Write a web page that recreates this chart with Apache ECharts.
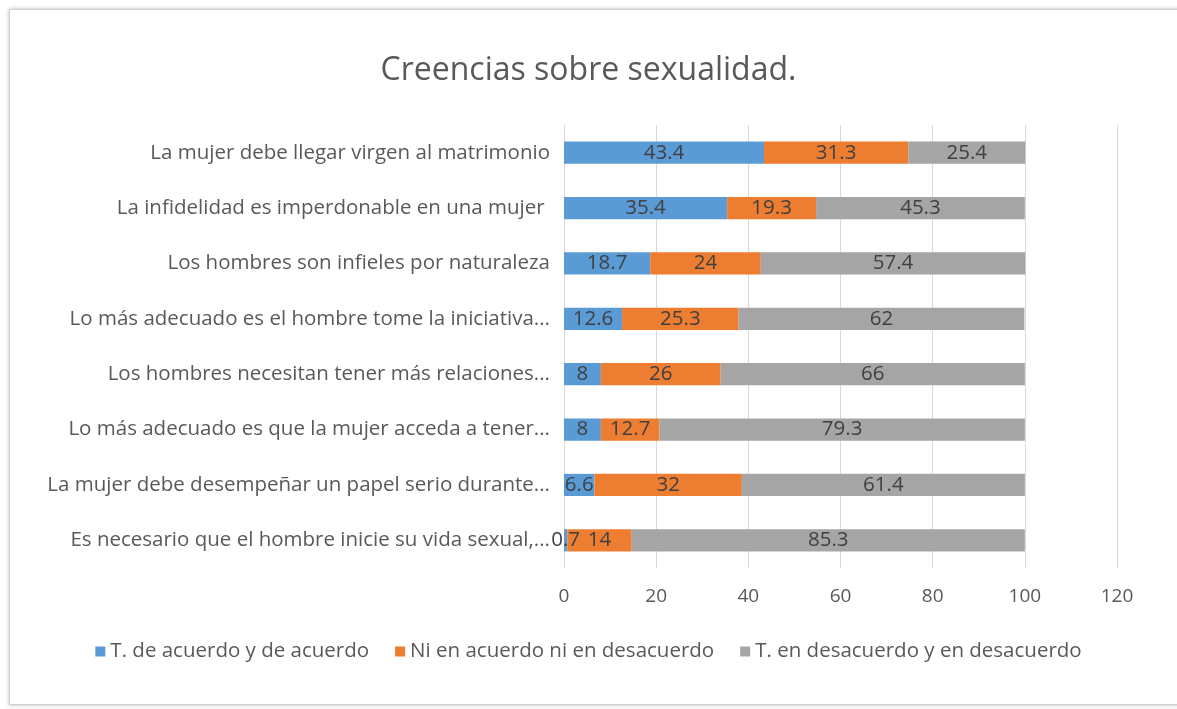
<!DOCTYPE html>
<html>
<head lang="es">
    <meta charset="UTF-8">
    <title>Creencias sobre sexualidad</title>
    <style>
        body { margin: 0; background: #fff; }
        #frame {
            position: absolute; left: 9px; top: 9px; width: 1170px; height: 694px;
            border: 1px solid #d0d0d0; box-shadow: 0 0 4px #bbb; background: #fff;
        }
        #main { position: absolute; left: 0; top: 0; width: 1177px; height: 709px; }
    </style>
</head>
<body>
<div id="frame"></div>
<div id="main"></div>
<script src="https://cdn.jsdelivr.net/npm/echarts/dist/echarts.min.js"></script>
<script type="text/javascript">
    // categorias (de arriba a abajo)
    var categorias = [
        'La mujer debe llegar virgen al matrimonio',
        'La infidelidad es imperdonable en una mujer ',
        'Los hombres son infieles por naturaleza',
        'Lo más adecuado es el hombre tome la iniciativa...',
        'Los hombres necesitan tener más relaciones...',
        'Lo más adecuado es que la mujer acceda a tener...',
        'La mujer debe desempeñar un papel serio durante...',
        'Es necesario que el hombre inicie su vida sexual,...'
    ];
    var nombresSeries = ['T. de acuerdo y de acuerdo', 'Ni en acuerdo ni en desacuerdo', 'T. en desacuerdo y en desacuerdo'];
    var deAcuerdo = [43.4, 35.4, 18.7, 12.6, 8, 8, 6.6, 0.7];
    var niNi = [31.3, 19.3, 24, 25.3, 26, 12.7, 32, 14];
    var desacuerdo = [25.4, 45.3, 57.4, 62, 66, 79.3, 61.4, 85.3];
    var ticksX = [0, 20, 40, 60, 80, 100, 120];

    var colores = ['#5b9bd5', '#ed7d31', '#a5a5a5'];
    var valores = [deAcuerdo, niNi, desacuerdo];
    var fuente = '"Open Sans", "Noto Sans", sans-serif';

    var myChart = echarts.init(document.getElementById('main'));
    var series = [];
    for (let i = 0; i < nombresSeries.length; i++) {
        series.push({
            name: nombresSeries[i],
            type: 'bar',
            stack: 'total',
            barWidth: '40%',
            data: valores[i],
            itemStyle: { color: colores[i] },
            label: {
                show: true, position: 'inside', color: '#404040',
                fontSize: 20.5, fontFamily: fuente
            }
        });
    }
    var option = {
        animation: false,
        title: {
            text: 'Creencias sobre sexualidad.',
            left: 'center', top: 50,
            textStyle: { fontSize: 32, fontWeight: 'normal', color: '#595959', fontFamily: fuente }
        },
        legend: {
            data: nombresSeries,
            bottom: 42, left: 'center',
            itemWidth: 10, itemHeight: 10, itemGap: 26,
            icon: 'rect',
            textStyle: { fontSize: 20.5, color: '#595959', fontFamily: fuente }
        },
        grid: { left: 564, right: 60, top: 125, bottom: 141, containLabel: false },
        xAxis: {
            type: 'value', min: ticksX[0], max: ticksX[ticksX.length - 1], interval: 20,
            axisLine: { show: false }, axisTick: { show: false },
            splitLine: { lineStyle: { color: '#d9d9d9' } },
            axisLabel: { fontSize: 19, color: '#595959', margin: 19, fontFamily: fuente }
        },
        yAxis: {
            type: 'category', data: categorias, inverse: true,
            axisLine: { lineStyle: { color: '#d9d9d9' } }, axisTick: { show: false },
            axisLabel: { fontSize: 20.5, color: '#595959', margin: 14, fontFamily: fuente }
        },
        series: series
    };
    myChart.setOption(option);
</script>
</body>
</html>
